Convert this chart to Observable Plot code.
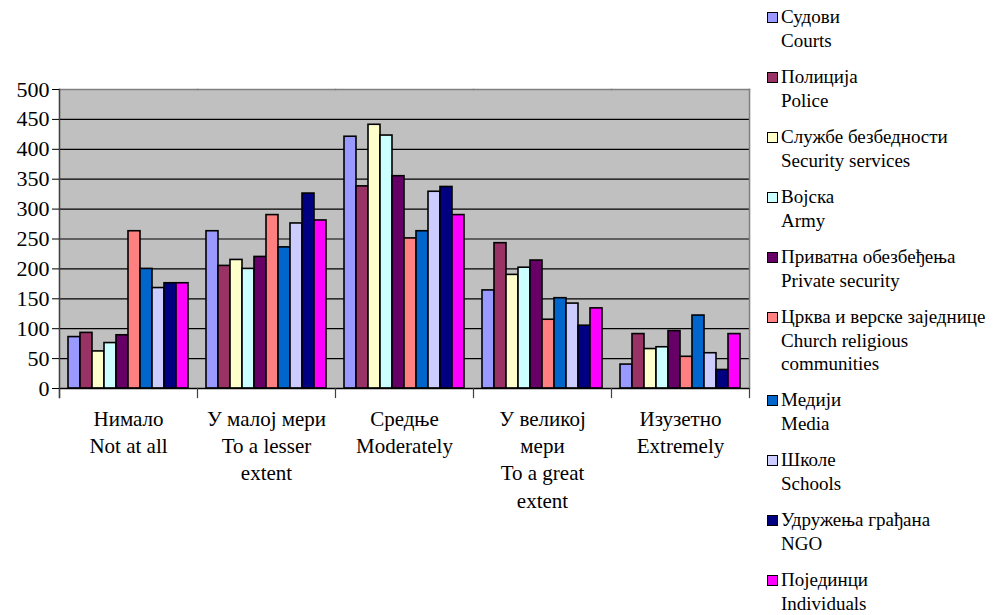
<!DOCTYPE html>
<html><head><meta charset="utf-8">
<script src="https://cdn.jsdelivr.net/npm/d3@7"></script>
<script src="https://cdn.jsdelivr.net/npm/@observablehq/plot@0.6"></script>
<style>
body{margin:0;background:#fff;}
.wrap{position:relative;width:996px;height:615px;}
.legend{position:absolute;left:767px;top:4px;font-size:19px;color:#000;}
.item{display:flex;align-items:flex-start;margin-bottom:12px;}
.sw{width:9px;height:9px;border:1.5px solid #000;margin-top:7.5px;margin-right:3px;flex:none;}
.sr{white-space:nowrap;line-height:25px;}
.en{max-width:205px;line-height:23px;}
</style></head>
<body>
<div class="wrap" id="wrap"><div id="chart"></div><div class="legend" id="legend"></div></div>
<script>
const categories = [
  "Нимало\nNot at all",
  "У малој мери\nTo a lesser\nextent",
  "Средње\nModerately",
  "У великој\nмери\nTo a great\nextent",
  "Изузетно\nExtremely"
];
const seriesSr = ["Судови","Полиција","Службе безбедности","Војска","Приватна обезбеђења","Црква и верске заједнице","Медији","Школе","Удружења грађана","Појединци"];
const seriesEn = ["Courts","Police","Security services","Army","Private security","Church religious communities","Media","Schools","NGO","Individuals"];
const colors = ["#9999ff","#993366","#ffffcc","#ccffff","#660066","#ff8080","#0066cc","#ccccff","#000080","#ff00ff"];

const courts      = [86, 263, 421, 164, 40];
const police      = [93, 205, 338, 243, 91];
const security    = [62, 215, 441, 190, 66];
const army        = [76, 200, 423, 202, 69];
const privateSec  = [89, 220, 355, 214, 96];
const church      = [263, 290, 251, 115, 53];
const media       = [200, 236, 263, 151, 122];
const schools     = [168, 276, 329, 142, 59];
const ngo         = [176, 326, 337, 105, 31];
const individuals = [176, 281, 290, 134, 91];
const seriesValues = [courts, police, security, army, privateSec, church, media, schools, ngo, individuals];

const yTicks = [0, 50, 100, 150, 200, 250, 300, 350, 400, 450, 500];
const gridTicks = [50, 100, 150, 200, 250, 300, 350, 400, 450];

const data = [];
seriesEn.forEach((s, i) => categories.forEach((c, j) => data.push({cat: c, series: s, value: seriesValues[i][j]})));

const FONT = "Liberation Serif";
const plot = Plot.plot({
  width: 996, height: 615,
  marginLeft: 59, marginRight: 247, marginTop: 89, marginBottom: 227,
  style: {fontFamily: FONT, background: "transparent", color: "#000"},
  fx: {domain: categories, padding: 0, label: null},
  x: {domain: seriesEn, paddingInner: 0, paddingOuter: 0.75, axis: null},
  y: {domain: [0, 500], axis: null},
  color: {domain: seriesEn, range: colors},
  marks: [
    Plot.frame({fill: "#c0c0c0", insetLeft: -0.6, insetRight: -0.6}),
    Plot.gridY(gridTicks, {stroke: "#000", strokeOpacity: 1, strokeWidth: 1.2}),
    Plot.frame({anchor: "top", stroke: "#808080", strokeWidth: 1.5}),
    Plot.frame({anchor: "right", stroke: "#808080", strokeWidth: 1.5, facetAnchor: "right"}),
    Plot.barY(data, {fx: "cat", x: "series", y: "value", fill: "series", stroke: "#000", strokeWidth: 1.6}),
    Plot.ruleY([0], {stroke: "#000", strokeWidth: 1.5}),
    Plot.frame({anchor: "left", stroke: "#404040", strokeWidth: 1.5, facetAnchor: "left", insetBottom: -9}),
    Plot.frame({anchor: "left", stroke: "#404040", strokeWidth: 1.2, insetTop: 299, insetBottom: -9}),
    Plot.frame({anchor: "right", stroke: "#404040", strokeWidth: 1.2, insetTop: 299, insetBottom: -9, facetAnchor: "right"}),
    Plot.axisY({ticks: yTicks, tickSize: 7, tickPadding: 3, fontSize: 22, fontFamily: FONT, label: null, stroke: "#000"}),
    Plot.axisFx({anchor: "bottom", tickSize: 0, tickPadding: 18, fontSize: 21, fontFamily: FONT, lineHeight: 1.3, label: null})
  ]
});
document.getElementById("chart").appendChild(plot);

const legend = document.getElementById("legend");
seriesSr.forEach((sr, i) => {
  const item = document.createElement("div");
  item.className = "item";
  const sw = document.createElement("div");
  sw.className = "sw";
  sw.style.background = colors[i];
  const lines = document.createElement("div");
  lines.style.fontFamily = FONT;
  const a = document.createElement("div");
  a.className = "sr"; a.textContent = sr; a.style.fontFamily = FONT;
  const b = document.createElement("div");
  b.className = "en"; b.textContent = seriesEn[i]; b.style.fontFamily = FONT;
  lines.appendChild(a); lines.appendChild(b);
  item.appendChild(sw); item.appendChild(lines);
  legend.appendChild(item);
});
</script>
</body></html>
